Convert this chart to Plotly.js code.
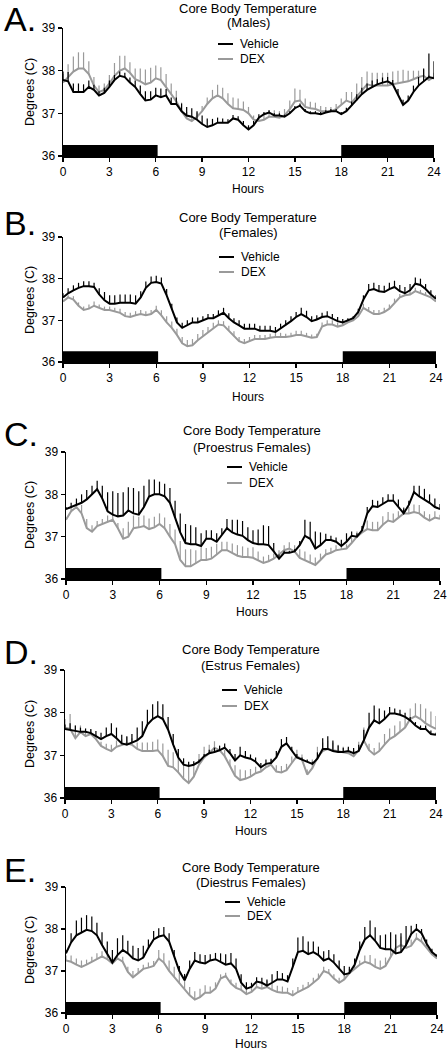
<!DOCTYPE html>
<html>
<head>
<meta charset="utf-8">
<script src="https://cdn.plot.ly/plotly-3.0.1.min.js"></script>
<style>
html,body{margin:0;padding:0;background:#fff;}
#chart{width:448px;height:1050px;}
</style>
</head>
<body>
<div id="chart"></div>
<script>
// ---------------- DATA ----------------
const hours = [0,0.33,0.67,1,1.33,1.67,2,2.33,2.67,3,3.33,3.67,4,4.33,4.67,5,5.33,5.67,6,6.33,6.67,7,7.33,7.67,8,8.33,8.67,9,9.33,9.67,10,10.33,10.67,11,11.33,11.67,12,12.33,12.67,13,13.33,13.67,14,14.33,14.67,15,15.33,15.67,16,16.33,16.67,17,17.33,17.67,18,18.33,18.67,19,19.33,19.67,20,20.33,20.67,21,21.33,21.67,22,22.33,22.67,23,23.33,23.67,24];
const xTicks = [0,3,6,9,12,15,18,21,24];
const yTicks = [36,37,38,39];
const darkStart = [0,18];
const darkEnd = [6.12,24];
const panelLetters = ['A.','B.','C.','D.','E.'];
const titleMain = 'Core Body Temperature';
const subtitles = ['(Males)','(Females)','(Proestrus Females)','(Estrus Females)','(Diestrus Females)'];
const seriesNames = ['Vehicle','DEX'];

// Panel A – Males
const vehA = [37.78,37.75,37.5,37.5,37.5,37.62,37.55, 37.42,37.48,37.62,37.78,37.88,37.85, 37.72,37.62,37.45,37.3,37.32,37.42, 37.38,37.42,37.22,37.22,37.05,36.95, 36.92,36.85,36.75,36.68,36.72,36.78, 36.78,36.78,36.88,36.85,36.72,36.62, 36.72,36.9,36.98,37.02,36.95,36.95, 36.92,37.0,37.12,37.18,37.05,37.0, 37.0,36.98,37.02,37.05,37.05,36.98, 37.05,37.18,37.3,37.45,37.55,37.62, 37.68,37.72,37.75,37.68,37.45,37.2, 37.3,37.5,37.65,37.75,37.85,37.82];
const vehAerr = [0.2,0.22,0.2,0.2,0.18,0.15,0.12, 0.1,0.12,0.15,0.12,0.1,0.1, 0.12,0.15,0.2,0.22,0.2,0.18, 0.2,0.15,0.15,0.15,0.18,0.2, 0.2,0.2,0.2,0.2,0.15,0.12, 0.1,0.08,0.08,0.08,0.1,0.1, 0.1,0.08,0.05,0.05,0.05,0.05, 0.05,0.05,0.05,0.05,0.05,0.05, 0.05,0.05,0.05,0.05,0.05,0.05, 0.08,0.1,0.15,0.15,0.15,0.15, 0.12,0.12,0.1,0.1,0.12,0.12, 0.12,0.15,0.2,0.3,0.55,0.4];
const dexA = [37.72,37.85,37.98,38.05,38.05,37.92,37.65, 37.5,37.55,37.7,37.88,38.0,38.05, 37.95,37.8,37.75,37.68,37.72,37.82, 37.78,37.62,37.45,37.28,37.05,36.88, 36.82,36.92,37.05,37.22,37.35,37.42, 37.35,37.22,37.12,37.1,37.08,37.0, 36.85,36.82,36.85,36.92,36.92,36.9, 36.95,37.1,37.28,37.3,37.15,37.12, 37.1,37.05,37.05,37.05,37.1,37.2, 37.3,37.25,37.4,37.55,37.68,37.65, 37.65,37.65,37.65,37.68,37.7,37.72, 37.75,37.8,37.85,37.88,37.78,37.85];
const dexAerr = [0.2,0.3,0.35,0.38,0.38,0.3,0.2, 0.15,0.15,0.2,0.3,0.35,0.3, 0.25,0.25,0.3,0.35,0.35,0.3, 0.3,0.3,0.25,0.25,0.2,0.15, 0.1,0.1,0.12,0.15,0.2,0.25, 0.25,0.25,0.25,0.25,0.2,0.15, 0.1,0.1,0.12,0.15,0.15,0.15, 0.15,0.2,0.3,0.25,0.2,0.15, 0.15,0.12,0.1,0.1,0.12,0.15, 0.2,0.25,0.3,0.3,0.3,0.3, 0.3,0.3,0.3,0.3,0.3,0.3, 0.25,0.2,0.15,0.15,0.12,0.1];

// Panel B – Females
const vehB = [37.55,37.65,37.72,37.78,37.82,37.82,37.8, 37.62,37.48,37.4,37.4,37.42,37.42, 37.42,37.4,37.55,37.78,37.9,37.92, 37.88,37.6,37.25,36.95,36.82,36.88, 36.95,36.95,37.0,37.05,37.05,37.12, 37.18,37.05,36.95,36.88,36.8,36.8, 36.8,36.75,36.75,36.75,36.72,36.8, 36.88,36.98,37.08,37.15,37.08,36.98, 37.02,37.08,37.1,37.05,36.98,36.95, 37.0,37.05,37.2,37.5,37.72,37.75, 37.7,37.68,37.75,37.8,37.7,37.65, 37.72,37.88,37.85,37.75,37.62,37.52];
const vehBerr = [0.1,0.12,0.12,0.12,0.12,0.12,0.1, 0.15,0.2,0.2,0.2,0.2,0.2, 0.2,0.2,0.15,0.15,0.15,0.15, 0.15,0.15,0.15,0.12,0.12,0.12, 0.12,0.12,0.1,0.1,0.1,0.12, 0.12,0.12,0.1,0.12,0.12,0.12, 0.12,0.12,0.12,0.12,0.12,0.12, 0.12,0.12,0.12,0.15,0.15,0.12, 0.1,0.1,0.12,0.1,0.1,0.08, 0.05,0.05,0.08,0.1,0.15,0.15, 0.15,0.15,0.15,0.15,0.15,0.15, 0.15,0.15,0.15,0.12,0.1,0.08];
const dexB = [37.45,37.55,37.5,37.35,37.25,37.28,37.35, 37.3,37.25,37.25,37.22,37.18,37.1, 37.08,37.12,37.15,37.12,37.15,37.25, 37.12,36.95,36.82,36.65,36.45,36.38, 36.4,36.52,36.62,36.72,36.82,36.9, 36.88,36.75,36.62,36.5,36.45,36.5, 36.55,36.55,36.55,36.58,36.6,36.6, 36.6,36.62,36.65,36.65,36.62,36.58, 36.6,36.85,36.9,36.9,36.85,36.88, 36.95,37.0,37.1,37.3,37.22,37.15, 37.15,37.2,37.28,37.42,37.55,37.6, 37.62,37.7,37.65,37.6,37.55,37.45];
const dexBerr = [0.05,0.05,0.08,0.08,0.08,0.1,0.1, 0.08,0.08,0.08,0.08,0.1,0.1, 0.1,0.1,0.1,0.1,0.1,0.1, 0.12,0.15,0.15,0.15,0.15,0.15, 0.15,0.15,0.15,0.12,0.12,0.1, 0.1,0.12,0.12,0.1,0.1,0.1, 0.1,0.1,0.1,0.1,0.1,0.1, 0.08,0.08,0.1,0.1,0.08,0.08, 0.08,0.1,0.1,0.1,0.1,0.08, 0.08,0.08,0.1,0.1,0.1,0.1, 0.1,0.1,0.1,0.1,0.08,0.08, 0.08,0.08,0.08,0.08,0.05,0.05];

// Panel C – Proestrus Females
const vehC = [37.65,37.7,37.75,37.8,37.88,38.0,38.12, 37.9,37.6,37.52,37.48,37.5,37.62, 37.55,37.52,37.7,37.95,38.0,38.0, 37.95,37.8,37.45,37.1,36.85,36.82, 36.82,36.78,36.95,36.95,36.88,37.05, 37.2,37.1,37.05,37.02,36.92,36.85, 36.82,36.82,36.8,36.65,36.48,36.62, 36.62,36.65,36.8,37.02,36.95,36.72, 36.8,36.92,36.92,36.88,36.78,36.88, 37.02,37.0,37.15,37.55,37.72,37.7, 37.78,37.85,37.85,37.7,37.55,37.75, 38.05,37.95,37.88,37.8,37.7,37.65];
const vehCerr = [0.05,0.1,0.15,0.2,0.22,0.2,0.2, 0.3,0.45,0.55,0.55,0.55,0.55, 0.6,0.55,0.5,0.4,0.35,0.3, 0.3,0.35,0.4,0.45,0.45,0.45, 0.4,0.3,0.2,0.2,0.2,0.15, 0.22,0.3,0.35,0.35,0.3,0.3, 0.35,0.45,0.45,0.2,0.1,0.05, 0.05,0.05,0.1,0.38,0.4,0.4, 0.3,0.15,0.1,0.1,0.15,0.2, 0.1,0.08,0.1,0.15,0.15,0.15, 0.15,0.15,0.15,0.18,0.12,0.1, 0.15,0.25,0.25,0.2,0.2,0.12];
const dexC = [37.4,37.6,37.7,37.55,37.2,37.12,37.25, 37.3,37.35,37.4,37.2,36.95,37.0, 37.2,37.22,37.25,37.18,37.22,37.3, 37.2,37.0,36.82,36.45,36.3,36.3, 36.38,36.45,36.45,36.48,36.58,36.68, 36.68,36.62,36.55,36.52,36.52,36.5, 36.45,36.38,36.42,36.48,36.58,36.68, 36.72,36.65,36.5,36.45,36.38,36.33, 36.45,36.58,36.62,36.68,36.7,36.72, 36.85,37.0,37.1,37.18,37.15,37.15, 37.28,37.38,37.35,37.45,37.55,37.55, 37.58,37.55,37.45,37.38,37.45,37.42];
const dexCerr = [0.05,0.1,0.12,0.2,0.22,0.15,0.12, 0.12,0.15,0.15,0.12,0.25,0.35, 0.3,0.25,0.25,0.25,0.25,0.25, 0.25,0.3,0.35,0.45,0.4,0.4, 0.3,0.3,0.28,0.28,0.25,0.2, 0.2,0.22,0.25,0.25,0.22,0.25, 0.2,0.15,0.15,0.12,0.1,0.12, 0.15,0.15,0.2,0.2,0.2,0.18, 0.15,0.12,0.12,0.12,0.1,0.1, 0.12,0.12,0.15,0.2,0.2,0.2, 0.2,0.2,0.2,0.15,0.15,0.15, 0.18,0.2,0.15,0.15,0.15,0.1];

// Panel D – Estrus Females
const vehD = [37.62,37.6,37.58,37.55,37.55,37.52,37.45, 37.38,37.45,37.5,37.4,37.28,37.25, 37.3,37.35,37.45,37.72,37.85,37.92, 37.85,37.6,37.25,36.95,36.78,36.75, 36.78,36.85,36.98,37.05,37.08,37.12, 37.18,37.05,36.88,37.0,36.95,36.92, 36.85,36.72,36.8,36.82,36.95,37.2, 37.28,37.1,36.95,36.9,36.85,36.8, 36.92,37.15,37.15,37.1,37.08,37.08, 37.1,37.05,37.1,37.35,37.65,37.82, 37.75,37.85,37.98,37.98,37.95,37.9, 37.82,37.7,37.62,37.62,37.5,37.48];
const vehDerr = [0.1,0.15,0.12,0.1,0.08,0.1,0.12, 0.15,0.2,0.25,0.25,0.2,0.2, 0.2,0.3,0.35,0.35,0.35,0.35, 0.35,0.3,0.25,0.2,0.15,0.1, 0.08,0.05,0.05,0.08,0.1,0.1, 0.1,0.1,0.15,0.2,0.15,0.1, 0.1,0.1,0.1,0.1,0.15,0.18, 0.15,0.1,0.08,0.05,0.05,0.05, 0.15,0.25,0.3,0.25,0.15,0.1, 0.1,0.12,0.15,0.25,0.35,0.35, 0.35,0.2,0.15,0.12,0.12,0.1, 0.08,0.08,0.08,0.08,0.08,0.05];
const dexD = [37.65,37.62,37.4,37.55,37.45,37.5,37.38, 37.22,37.15,37.1,37.2,37.25,37.28, 37.25,37.15,37.1,37.1,37.1,37.12, 36.98,36.75,36.72,36.6,36.45,36.35, 36.5,36.78,36.95,37.05,37.18,37.12, 36.98,36.75,36.52,36.42,36.45,36.5, 36.58,36.62,36.72,36.78,36.62,36.6, 36.65,36.82,36.98,36.9,36.55,36.7, 36.95,37.1,37.15,37.12,37.1,37.08, 37.05,36.98,37.12,37.35,37.12,37.02, 37.1,37.25,37.38,37.45,37.55,37.65, 37.85,37.92,37.85,37.75,37.68,37.62];
const dexDerr = [0.2,0.35,0.3,0.15,0.1,0.1,0.1, 0.1,0.12,0.15,0.15,0.12,0.15, 0.15,0.15,0.2,0.2,0.22,0.25, 0.3,0.38,0.35,0.4,0.42,0.42, 0.3,0.25,0.25,0.2,0.15,0.12, 0.15,0.15,0.25,0.25,0.2,0.18, 0.15,0.12,0.1,0.12,0.15,0.15, 0.15,0.15,0.15,0.12,0.12,0.2, 0.25,0.2,0.2,0.18,0.15,0.12, 0.12,0.15,0.2,0.3,0.15,0.15, 0.2,0.25,0.25,0.25,0.25,0.25, 0.25,0.3,0.35,0.35,0.35,0.3];

// Panel E – Diestrus Females
const vehE = [37.42,37.68,37.85,37.92,37.98,37.95,37.85, 37.62,37.4,37.2,37.38,37.5,37.42, 37.3,37.25,37.32,37.55,37.75,37.82, 37.85,37.7,37.35,37.0,36.78,37.05, 37.25,37.2,37.18,37.25,37.28,37.22, 37.15,37.18,37.05,36.72,36.58,36.62, 36.75,36.72,36.65,36.72,36.8,36.8, 36.75,37.1,37.45,37.48,37.4,37.45, 37.38,37.25,37.3,37.2,37.05,36.92, 36.95,37.15,37.5,37.75,37.85,37.72, 37.55,37.52,37.52,37.42,37.45,37.62, 37.88,38.0,37.9,37.65,37.45,37.35];
const vehEerr = [0.08,0.22,0.35,0.35,0.35,0.35,0.3, 0.3,0.3,0.3,0.4,0.35,0.3, 0.3,0.3,0.28,0.2,0.2,0.2, 0.2,0.2,0.15,0.12,0.15,0.2, 0.2,0.2,0.2,0.15,0.15,0.2, 0.25,0.25,0.25,0.2,0.15,0.1, 0.1,0.12,0.15,0.2,0.2,0.15, 0.15,0.2,0.35,0.35,0.3,0.25, 0.2,0.22,0.2,0.2,0.2,0.2, 0.15,0.15,0.2,0.3,0.35,0.32, 0.3,0.35,0.4,0.45,0.45,0.45, 0.2,0.12,0.1,0.1,0.08,0.05];
const dexE = [37.25,37.22,37.15,37.1,37.15,37.22,37.3, 37.35,37.28,37.18,37.3,37.22,36.98, 36.85,36.95,37.05,37.08,37.12,37.3, 37.2,37.0,36.85,36.7,36.55,36.42, 36.32,36.38,36.48,36.48,36.58,36.82, 36.88,36.7,36.6,36.55,36.45,36.5, 36.62,36.58,36.62,36.55,36.5,36.48, 36.48,36.42,36.5,36.55,36.62,36.72, 36.82,37.0,36.95,36.82,36.72,36.8, 36.95,37.05,37.15,37.22,37.18,37.1, 37.05,37.12,37.35,37.55,37.62,37.55, 37.6,37.78,37.7,37.55,37.4,37.3];
const dexEerr = [0.12,0.15,0.15,0.15,0.12,0.12,0.12, 0.12,0.1,0.1,0.1,0.12,0.12, 0.15,0.12,0.1,0.12,0.12,0.2, 0.22,0.25,0.25,0.25,0.25,0.2, 0.2,0.2,0.18,0.15,0.15,0.1, 0.08,0.1,0.12,0.12,0.15,0.15, 0.12,0.15,0.15,0.15,0.15,0.15, 0.12,0.12,0.12,0.12,0.12,0.12, 0.12,0.1,0.1,0.1,0.12,0.12, 0.1,0.1,0.1,0.15,0.2,0.2, 0.2,0.2,0.2,0.2,0.2,0.18, 0.15,0.12,0.1,0.1,0.1,0.05];

// ---------------- BUILD ----------------
const vehicleSeries = [vehA, vehB, vehC, vehD, vehE];
const vehicleErr = [vehAerr, vehBerr, vehCerr, vehDerr, vehEerr];
const dexSeries = [dexA, dexB, dexC, dexD, dexE];
const dexErr = [dexAerr, dexBerr, dexCerr, dexDerr, dexEerr];

const W = 448, H = 1050;
const BLACK = '#000000', GRAY = '#9a9a9a';
const FONT = 'Liberation Sans, Arial, Helvetica, sans-serif';
// pixel layout of each panel (style only)
const L = [
  {x0:63, x1:434, top:28,  bot:156,  t1:9,   t2:23,  tx:248, lx:218, ly1:44,  ly2:59,  hy:189,  ay:92,  ly:19},
  {x0:63, x1:436, top:237, bot:362,  t1:217, t2:232, tx:248, lx:219, ly1:257, ly2:272, hy:397,  ay:300, ly:223},
  {x0:66, x1:440, top:452, bot:579,  t1:431, t2:447, tx:252, lx:227, ly1:467, ly2:483, hy:612,  ay:515, ly:434},
  {x0:65, x1:436, top:670, bot:798,  t1:649, t2:665, tx:251, lx:222, ly1:690, ly2:706, hy:831,  ay:734, ly:652},
  {x0:66, x1:437, top:887, bot:1013, t1:867, t2:882, tx:251, lx:225, ly1:902, ly2:916, hy:1044, ay:950, ly:870}
];
const px = p => p / W;
const py = p => 1 - p / H;

const traces = [];
const layout = {
  width: W, height: H,
  margin: {l:0, r:0, t:0, b:0},
  paper_bgcolor: '#fff', plot_bgcolor: 'rgba(0,0,0,0)',
  showlegend: false,
  font: {family: FONT, color: '#000', size: 12},
  annotations: [], shapes: []
};

for (let i = 0; i < 5; i++) {
  const g = L[i];
  const sfx = i === 0 ? '' : String(i + 1);
  const xa = 'x' + sfx, ya = 'y' + sfx;
  layout['xaxis' + sfx] = {
    domain: [px(g.x0), px(g.x1)], anchor: ya, range: [0, 24],
    tickvals: xTicks, ticktext: xTicks.map(String),
    ticks: 'outside', ticklen: 4, tickwidth: 1.3, tickcolor: '#000',
    showline: true, linecolor: '#000', linewidth: 1.5,
    showgrid: false, zeroline: false, fixedrange: true,
    tickfont: {size: 12, family: FONT, color: '#000'}
  };
  layout['yaxis' + sfx] = {
    domain: [py(g.bot), py(g.top)], anchor: xa, range: [36, 39],
    tickvals: yTicks, ticktext: yTicks.map(String),
    ticks: 'outside', ticklen: 4, tickwidth: 1.3, tickcolor: '#000',
    showline: true, linecolor: '#000', linewidth: 1.5,
    showgrid: false, zeroline: false, fixedrange: true,
    tickfont: {size: 12, family: FONT, color: '#000'}
  };
  // dark-period bars
  for (let k = 0; k < darkStart.length; k++) {
    layout.shapes.push({type:'rect', xref:xa, yref:ya, x0:darkStart[k], x1:darkEnd[k], y0:36, y1:36.26,
      fillcolor:'#000', line:{width:0}, layer:'above'});
  }
  const zeros = hours.map(() => 0);
  traces.push({
    x: hours, y: dexSeries[i], xaxis: xa, yaxis: ya, type: 'scatter', mode: 'lines', name: seriesNames[1],
    line: {color: GRAY, width: 2},
    error_y: {type:'data', symmetric:false, array: dexErr[i], arrayminus: zeros, width:0, thickness:1.2, color: GRAY}
  });
  traces.push({
    x: hours, y: vehicleSeries[i], xaxis: xa, yaxis: ya, type: 'scatter', mode: 'lines', name: seriesNames[0],
    line: {color: BLACK, width: 2},
    error_y: {type:'data', symmetric:false, array: vehicleErr[i], arrayminus: zeros, width:0, thickness:1.2, color: BLACK}
  });
  // titles
  layout.annotations.push({xref:'paper', yref:'paper', x:px(g.tx), y:py(g.t1), text:titleMain, showarrow:false,
    xanchor:'center', yanchor:'middle', font:{size:13, family:FONT, color:'#000'}});
  layout.annotations.push({xref:'paper', yref:'paper', x:px(g.tx), y:py(g.t2), text:subtitles[i], showarrow:false,
    xanchor:'center', yanchor:'middle', font:{size:13, family:FONT, color:'#000'}});
  // panel letter
  layout.annotations.push({xref:'paper', yref:'paper', x:px(2), y:py(g.ly), text:panelLetters[i], showarrow:false,
    xanchor:'left', yanchor:'middle', font:{size:34, family:FONT, color:'#000'}});
  // axis titles
  layout.annotations.push({xref:'paper', yref:'paper', x:px(g.tx), y:py(g.hy), text:'Hours', showarrow:false,
    xanchor:'center', yanchor:'middle', font:{size:12, family:FONT, color:'#000'}});
  layout.annotations.push({xref:'paper', yref:'paper', x:px(30), y:py(g.ay), text:'Degrees (C)', showarrow:false,
    textangle:-90, xanchor:'center', yanchor:'middle', font:{size:12.5, family:FONT, color:'#000'}});
  // legend
  const legY = [g.ly1, g.ly2], legC = [BLACK, GRAY];
  for (let k = 0; k < 2; k++) {
    layout.shapes.push({type:'line', xref:'paper', yref:'paper', x0:px(g.lx), x1:px(g.lx + 15),
      y0:py(legY[k]), y1:py(legY[k]), line:{color:legC[k], width:2}});
    layout.annotations.push({xref:'paper', yref:'paper', x:px(g.lx + 20), y:py(legY[k]), text:seriesNames[k],
      showarrow:false, xanchor:'left', yanchor:'middle', font:{size:12, family:FONT, color:'#000'}});
  }
}

Plotly.newPlot('chart', traces, layout, {staticPlot: true, displayModeBar: false});
</script>
</body>
</html>
